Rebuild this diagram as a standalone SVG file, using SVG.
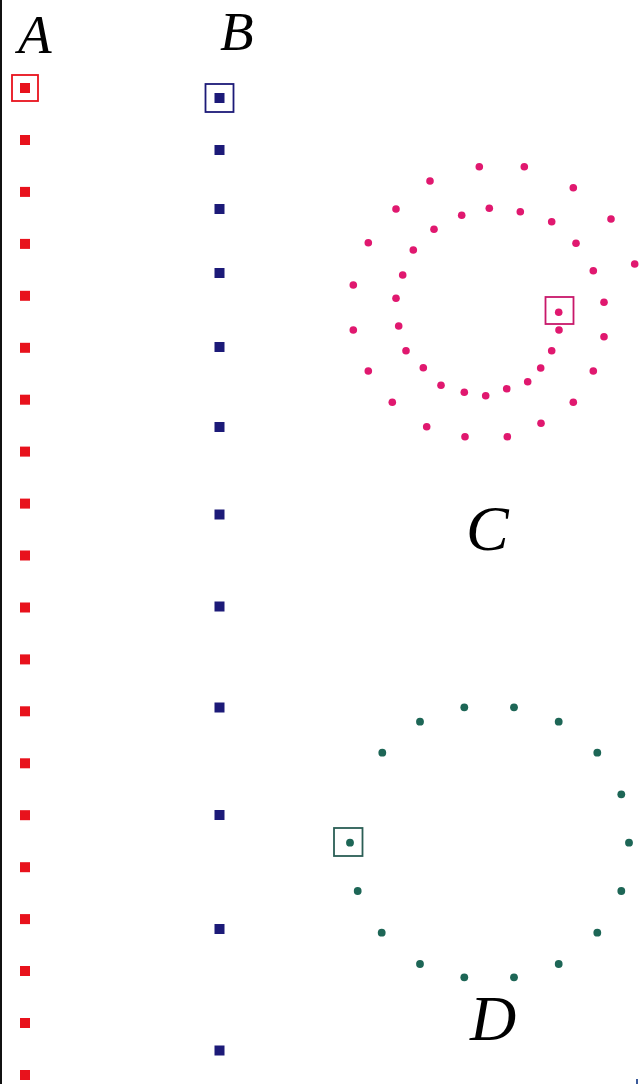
<svg xmlns="http://www.w3.org/2000/svg" width="640" height="1084" viewBox="0 0 640 1084">
<style>
.lbl{font-family:"Liberation Serif","Times New Roman",serif;font-style:italic;fill:#000}
.r{fill:#e8121c}
.b{fill:#1c1a78}
.m{fill:#e0186f}
.t{fill:#1d6656}
</style>
<defs>
<rect id="rs" x="-5" y="-5" width="10" height="10"/>
<rect id="bs" x="-5" y="-5" width="10" height="10"/>
<circle id="md" r="3.8"/>
<circle id="td" r="3.9"/>
</defs>
<rect width="640" height="1084" fill="#fff"/>
<rect x="0" y="0" width="2" height="1084" fill="#111"/>
<rect x="636" y="1079" width="2" height="5" fill="#3a5a9a"/>

<g id="seriesA">
<text class="lbl" x="18" y="53" font-size="55">A</text>
<rect x="12" y="75" width="26" height="26" fill="none" stroke="#e8121c" stroke-width="1.8"/>
<g class="r">
<use href="#rs" x="25" y="88"/>
<use href="#rs" x="25" y="140"/>
<use href="#rs" x="25" y="191.9"/>
<use href="#rs" x="25" y="243.9"/>
<use href="#rs" x="25" y="295.8"/>
<use href="#rs" x="25" y="347.8"/>
<use href="#rs" x="25" y="399.7"/>
<use href="#rs" x="25" y="451.6"/>
<use href="#rs" x="25" y="503.6"/>
<use href="#rs" x="25" y="555.5"/>
<use href="#rs" x="25" y="607.5"/>
<use href="#rs" x="25" y="659.4"/>
<use href="#rs" x="25" y="711.3"/>
<use href="#rs" x="25" y="763.3"/>
<use href="#rs" x="25" y="815.2"/>
<use href="#rs" x="25" y="867.2"/>
<use href="#rs" x="25" y="919.1"/>
<use href="#rs" x="25" y="971"/>
<use href="#rs" x="25" y="1023"/>
<use href="#rs" x="25" y="1075"/>
</g>
</g>

<g id="seriesB">
<text class="lbl" x="220" y="50" font-size="55">B</text>
<rect x="205.5" y="84" width="28" height="28" fill="none" stroke="#1c1a78" stroke-width="1.8"/>
<g class="b">
<use href="#bs" x="219.5" y="98"/>
<use href="#bs" x="219.5" y="150"/>
<use href="#bs" x="219.5" y="209"/>
<use href="#bs" x="219.5" y="273"/>
<use href="#bs" x="219.5" y="347"/>
<use href="#bs" x="219.5" y="427"/>
<use href="#bs" x="219.5" y="514.5"/>
<use href="#bs" x="219.5" y="606.5"/>
<use href="#bs" x="219.5" y="707.5"/>
<use href="#bs" x="219.5" y="815"/>
<use href="#bs" x="219.5" y="929"/>
<use href="#bs" x="219.5" y="1050.5"/>
</g>
</g>

<g id="seriesC">
<text class="lbl" x="466" y="550" font-size="64">C</text>
<rect x="545.5" y="297" width="28" height="27" fill="none" stroke="#c8186a" stroke-width="1.8"/>
<g class="m">
<use href="#md" x="479.3" y="166.7"/>
<use href="#md" x="524.3" y="166.7"/>
<use href="#md" x="430" y="181"/>
<use href="#md" x="573.3" y="187.7"/>
<use href="#md" x="396" y="209"/>
<use href="#md" x="489.3" y="208.3"/>
<use href="#md" x="461.7" y="215.3"/>
<use href="#md" x="520.3" y="211.7"/>
<use href="#md" x="551.7" y="221.7"/>
<use href="#md" x="611" y="219"/>
<use href="#md" x="434" y="229.3"/>
<use href="#md" x="368.3" y="242.7"/>
<use href="#md" x="413.3" y="250"/>
<use href="#md" x="576" y="243.3"/>
<use href="#md" x="634.7" y="264"/>
<use href="#md" x="593.3" y="270.7"/>
<use href="#md" x="402.7" y="275"/>
<use href="#md" x="353.3" y="285"/>
<use href="#md" x="396" y="298.3"/>
<use href="#md" x="604" y="302.3"/>
<use href="#md" x="558.7" y="312.3"/>
<use href="#md" x="398.7" y="326"/>
<use href="#md" x="353.3" y="330"/>
<use href="#md" x="559" y="330"/>
<use href="#md" x="604" y="336.7"/>
<use href="#md" x="406" y="350.7"/>
<use href="#md" x="551.7" y="350.7"/>
<use href="#md" x="368.3" y="371"/>
<use href="#md" x="423.3" y="367.7"/>
<use href="#md" x="540.7" y="368"/>
<use href="#md" x="593.3" y="371"/>
<use href="#md" x="441" y="385.3"/>
<use href="#md" x="527.7" y="381.7"/>
<use href="#md" x="464.3" y="392.3"/>
<use href="#md" x="485.7" y="395.7"/>
<use href="#md" x="506.7" y="388.7"/>
<use href="#md" x="392.3" y="402.3"/>
<use href="#md" x="573.3" y="402.3"/>
<use href="#md" x="426.7" y="426.7"/>
<use href="#md" x="541" y="423.3"/>
<use href="#md" x="465" y="436.7"/>
<use href="#md" x="507.3" y="436.7"/>
</g>
</g>

<g id="seriesD">
<text class="lbl" x="470" y="1040" font-size="64">D</text>
<rect x="334" y="828" width="28.5" height="28" fill="none" stroke="#2b5e55" stroke-width="1.8"/>
<g class="t">
<use href="#td" x="464.3" y="707.3"/>
<use href="#td" x="514" y="707.3"/>
<use href="#td" x="420" y="721.7"/>
<use href="#td" x="558.7" y="721.7"/>
<use href="#td" x="382.3" y="752.7"/>
<use href="#td" x="597.3" y="752.7"/>
<use href="#td" x="621.3" y="794.3"/>
<use href="#td" x="350" y="842.7"/>
<use href="#td" x="629" y="842.7"/>
<use href="#td" x="357.7" y="891"/>
<use href="#td" x="621.3" y="891"/>
<use href="#td" x="381.7" y="932.7"/>
<use href="#td" x="597.3" y="932.7"/>
<use href="#td" x="420" y="964"/>
<use href="#td" x="558.7" y="964"/>
<use href="#td" x="464.3" y="977.3"/>
<use href="#td" x="514" y="977.3"/>
</g>
</g>
</svg>
